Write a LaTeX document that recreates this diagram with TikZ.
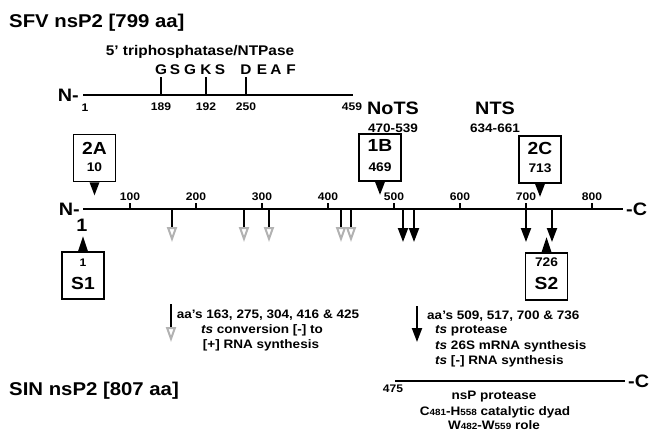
\documentclass[tikz,border=0pt]{standalone}
\usepackage{fontspec}
\setmainfont[FakeStretch=1.1]{Liberation Sans}
\usetikzlibrary{arrows.meta,calc,positioning}
\newcommand{\sm}[1]{{\fontsize{9}{10}\selectfont #1}}
\newcommand{\ptdown}[1]{\fill ($(#1.south)+(-5,0)$) -- ($(#1.south)+(5,0)$) -- ($(#1.south)+(0,13)$) -- cycle;}
\newcommand{\ptup}[1]{\fill ($(#1.north)+(-5,0)$) -- ($(#1.north)+(5,0)$) -- ($(#1.north)+(0,-15)$) -- cycle;}

\begin{document}
\begin{tikzpicture}[x=1pt,y=-1pt,>=Latex,
  lbl/.style={inner sep=0pt,font=\bfseries\fontsize{11}{13}\selectfont},
  txt/.style={inner sep=0pt,font=\bfseries\fontsize{12.3}{14}\selectfont},
  big/.style={inner sep=0pt,font=\bfseries\fontsize{18}{20}\selectfont},
  site/.style={inner sep=0pt,font=\bfseries\fontsize{17.5}{20}\selectfont},
  sitebox/.style={draw,line width=1.5pt,minimum width=42pt,minimum height=47pt,inner sep=0pt},
  openarr/.style={line width=2pt,-{Triangle[open,length=15pt,width=10pt,color=black!30]}},
  fullarr/.style={line width=2pt,-{Triangle[length=14pt,width=10pt]}}]
\useasboundingbox (0,0) rectangle (650,432);
% SFV nsP2, N-terminal domain
\node[inner sep=0pt,anchor=west,font=\bfseries\fontsize{18.5}{20}\selectfont] (sfv) at (9,23) {SFV nsP2 [799 aa]};
\node[txt,font=\bfseries\fontsize{14}{16}\selectfont] (ntp) at (200,52) {5' triphosphatase/NTPase};
\node[big,anchor=east] (tN) at (79,95) {N-};
\coordinate (t1) at (83,95); \coordinate (t459) at (353,95);
\draw[line width=2.5pt] (t1) -- (t459);
\foreach \x/\aa in {161/189,206/192,246/250}
  \draw[line width=2pt] (\x,95) -- (\x,77) node[lbl,pos=0,below=7pt] (p\aa) {\aa};
\node[lbl] (p1) at (85,108) {1};
\node[lbl] (p459) at (352,107) {459};
\foreach \x/\c [count=\i] in {161/G,175/S,190/G,206/K,220/S,246/D,262/E,276/A,291/F}
  \node[txt,font=\bfseries\fontsize{14}{16}\selectfont] (m\i) at (\x,70) {\c};
% signals
\node[big] (nots) at (393,108) {NoTS};
\node[txt] (notsr) at (393,128) {470-539};
\node[big] (nts) at (495,108) {NTS};
\node[txt] (ntsr) at (495,128) {634-661};
% main line
\node[big,anchor=east] (mN) at (80,209) {N-};
\node[big] (m1) at (82,225) {1};
\node[big,anchor=west] (mC) at (626,209) {-C};
\coordinate (a0) at (83,209); \coordinate (a1) at (623,209);
\draw[line width=2.5pt] (a0) -- (a1);
\foreach \t in {100,200,...,800}
  \draw[line width=2pt] ({64+0.66*\t},209) -- ++(0,-6) node[lbl,above=1pt] (tk\t) {\t};
\foreach \x [count=\i] in {172,244,269,341,351}{
  \coordinate (o\i) at (\x,209); \coordinate (oe\i) at (\x,242);
  \draw[openarr] (o\i) -- (oe\i);}
\foreach \x [count=\i] in {403,414,526,552}{
  \coordinate (f\i) at (\x,209); \coordinate (fe\i) at (\x,242);
  \draw[fullarr] (f\i) -- (fe\i);}
% cleavage sites
\node[sitebox] (b2A) at (94.5,158) {};
\node[site] (b2An) at ($(b2A)+(0,-10)$) {2A};
\node[txt,font=\bfseries\fontsize{12.5}{14}\selectfont] (b2Ap) at ($(b2A)+(0,9)$) {10};
\node[sitebox] (b1B) at (380,157.5) {};
\node[site] (b1Bn) at ($(b1B)+(0,-12)$) {1B};
\node[txt,font=\bfseries\fontsize{12.5}{14}\selectfont] (b1Bp) at ($(b1B)+(0,9.5)$) {469};
\node[sitebox] (b2C) at (540,159.5) {};
\node[site] (b2Cn) at ($(b2C)+(0,-11.5)$) {2C};
\node[txt,font=\bfseries\fontsize{12.5}{14}\selectfont] (b2Cp) at ($(b2C)+(0,8.5)$) {713};
\node[sitebox] (bS1) at (83,275.5) {};
\node[txt,font=\bfseries\fontsize{11}{13}\selectfont] (bS1p) at ($(bS1)+(0,-13)$) {1};
\node[site] (bS1n) at ($(bS1)+(0,8)$) {S1};
\node[sitebox] (bS2) at (546.5,276.5) {};
\node[txt,font=\bfseries\fontsize{12.5}{14}\selectfont] (bS2p) at ($(bS2)+(0,-14)$) {726};
\node[site] (bS2n) at ($(bS2)+(0,7)$) {S2};
\ptdown{b2A} \ptdown{b1B} \ptdown{b2C}
\ptup{bS1} \ptup{bS2}
% legend
\coordinate (lo) at (171,304); \coordinate (loe) at (171,342);
\draw[openarr] (lo) -- (loe);
\node[txt] (lo1) at (268,315) {aa's 163, 275, 304, 416 \& 425};
\node[txt] (lo2) at (262,330) {\textit{ts} conversion [-] to};
\node[txt] (lo3) at (261,345) {[+] RNA synthesis};
\coordinate (lf) at (417,306); \coordinate (lfe) at (417,342);
\draw[fullarr] (lf) -- (lfe);
\node[txt,anchor=west] (lf1) at (427,316) {aa's 509, 517, 700 \& 736};
\node[txt,anchor=west] (lf2) at (435,331) {\textit{ts} protease};
\node[txt,anchor=west] (lf3) at (435,346) {\textit{ts} 26S mRNA synthesis};
\node[txt,anchor=west] (lf4) at (435,361) {\textit{ts} [-] RNA synthesis};
% SIN nsP2, protease domain
\node[inner sep=0pt,anchor=west,font=\bfseries\fontsize{18.5}{20}\selectfont] (sin) at (9,391) {SIN nsP2 [807 aa]};
\coordinate (s475) at (395,381); \coordinate (s807) at (625,381);
\draw[line width=2.5pt] (s475) -- (s807);
\node[big,anchor=west] (sC) at (628,381) {-C};
\node[lbl] (p475) at (393,389) {475};
\node[txt] (prot) at (494,397) {nsP protease};
\node[txt] (dyad) at (495,412) {C\sm{481}-H\sm{558} catalytic dyad};
\node[txt] (role) at (494,425) {W\sm{482}-W\sm{559} role};
\end{tikzpicture}
\end{document}
